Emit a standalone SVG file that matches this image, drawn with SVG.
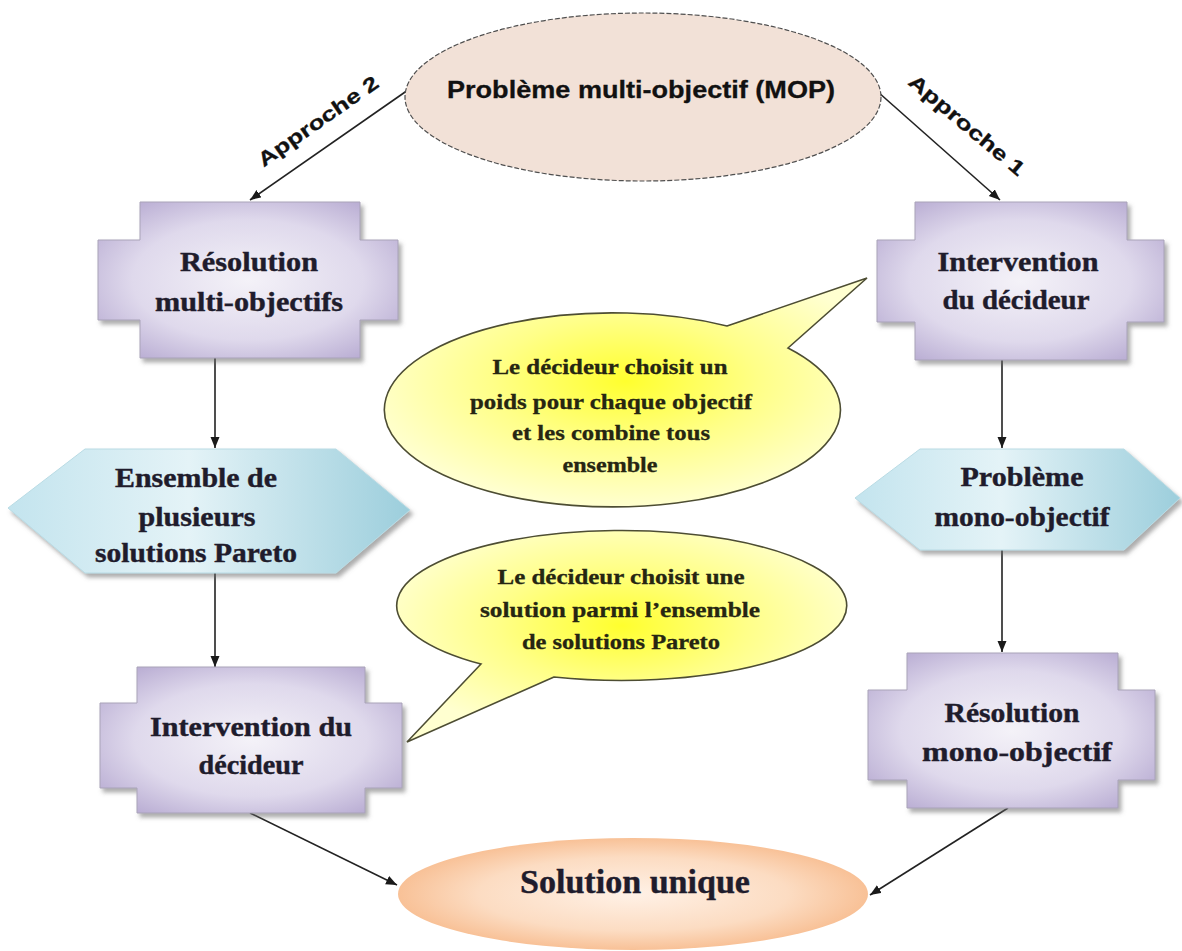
<svg xmlns="http://www.w3.org/2000/svg" width="1182" height="951" viewBox="0 0 1182 951">
  <defs>
    <radialGradient id="gPurple" cx="50%" cy="50%" r="70%">
      <stop offset="0" stop-color="#f4f2f8"/>
      <stop offset="0.55" stop-color="#dfd9ec"/>
      <stop offset="1" stop-color="#ad9fcb"/>
    </radialGradient>
    <linearGradient id="gCyan" x1="0" y1="0" x2="1" y2="0">
      <stop offset="0" stop-color="#c3e4ee"/>
      <stop offset="0.45" stop-color="#e4f3f7"/>
      <stop offset="1" stop-color="#9ccedc"/>
    </linearGradient>
    <radialGradient id="gYellow" cx="50%" cy="45%" r="55%">
      <stop offset="0" stop-color="#ffff2e"/>
      <stop offset="0.5" stop-color="#ffff88"/>
      <stop offset="1" stop-color="#ffffd0"/>
    </radialGradient>
    <radialGradient id="gOrange" cx="50%" cy="50%" r="55%">
      <stop offset="0" stop-color="#fff1e6"/>
      <stop offset="0.6" stop-color="#fcdcc2"/>
      <stop offset="1" stop-color="#f7b98a"/>
    </radialGradient>
    <filter id="shadow" x="-10%" y="-10%" width="125%" height="130%">
      <feDropShadow dx="3" dy="4" stdDeviation="2" flood-color="#6b6b6b" flood-opacity="0.55"/>
    </filter>
    <marker id="arrow" markerUnits="userSpaceOnUse" markerWidth="12" markerHeight="10" refX="11" refY="4.5" orient="auto">
      <path d="M0,0 L11,4.5 L0,9 z" fill="#1a1a1a"/>
    </marker>
    <style>
      .box { fill: url(#gPurple); stroke: #a9a3b8; stroke-width: 1; filter: url(#shadow); }
      .hex { fill: url(#gCyan); stroke: #b9dbe4; stroke-width: 1; filter: url(#shadow); }
      .bubble { fill: url(#gYellow); stroke: #4d4d33; stroke-width: 1.6; }
      .conn { stroke: #222; stroke-width: 1.6; fill: none; marker-end: url(#arrow); }
      .serif { font-family: "Liberation Serif", "Times New Roman", serif; font-weight: bold; fill: #1f1c2c; stroke: #1f1c2c; stroke-width: 0.4; text-anchor: middle; }
      .sans { font-family: "Liberation Sans", Arial, sans-serif; font-weight: bold; fill: #111; stroke: #111; stroke-width: 0.3; text-anchor: middle; }
      .node-text { font-size: 27px; }
      .bubble-text { font-size: 21px; fill: #262612; stroke: #262612; stroke-width: 0.3; }
    </style>
  </defs>

  <rect width="1182" height="951" fill="#ffffff"/>

  <!-- connectors -->
  <g id="connectors">
    <line class="conn" x1="408" y1="90" x2="250" y2="200"/>
    <line class="conn" x1="878" y1="92" x2="1000" y2="200"/>
    <line class="conn" x1="215" y1="358" x2="215" y2="448"/>
    <line class="conn" x1="215" y1="573" x2="215" y2="667"/>
    <line class="conn" x1="1002" y1="360" x2="1002" y2="448"/>
    <line class="conn" x1="1002" y1="550" x2="1002" y2="652"/>
    <line class="conn" x1="250" y1="813" x2="397" y2="885"/>
    <line class="conn" x1="1008" y1="808" x2="870" y2="895"/>
    <text class="sans" font-size="20" transform="translate(318,121) rotate(-35)" y="7" textLength="142" lengthAdjust="spacingAndGlyphs">Approche 2</text>
    <text class="sans" font-size="20" transform="translate(967,125) rotate(40)" y="7" textLength="145" lengthAdjust="spacingAndGlyphs">Approche 1</text>
  </g>

  <!-- top problem -->
  <g id="mop">
    <ellipse cx="643" cy="97" rx="238" ry="84" fill="#f2e1d7" stroke="#4f4f4f" stroke-width="1.2" stroke-dasharray="5 2"/>
    <text class="sans" x="641" y="98" font-size="24" textLength="388" lengthAdjust="spacingAndGlyphs">Problème multi-objectif (MOP)</text>
  </g>

  <!-- approach 2: left column -->
  <g id="resolution-multi">
    <path class="box" d="M140 202 H360 V240 H398 V320 H360 V358 H140 V320 H98 V240 H140 Z"/>
    <text class="serif node-text" x="249" y="271" textLength="138" lengthAdjust="spacingAndGlyphs">Résolution</text>
    <text class="serif node-text" x="249" y="311" textLength="188" lengthAdjust="spacingAndGlyphs">multi-objectifs</text>
  </g>

  <g id="ensemble-pareto">
    <path class="hex" d="M85 449 H336 L410 510 L336 573 H85 L8 508 Z"/>
    <text class="serif node-text" x="196" y="487" textLength="162" lengthAdjust="spacingAndGlyphs">Ensemble de</text>
    <text class="serif node-text" x="197" y="526" textLength="117" lengthAdjust="spacingAndGlyphs">plusieurs</text>
    <text class="serif node-text" x="196" y="562" textLength="202" lengthAdjust="spacingAndGlyphs">solutions Pareto</text>
  </g>

  <g id="intervention-left">
    <path class="box" d="M137 667 H365 V703 H402 V788 H365 V813 H137 V788 H100 V703 H137 Z"/>
    <text class="serif node-text" x="251" y="736" textLength="202" lengthAdjust="spacingAndGlyphs">Intervention du</text>
    <text class="serif node-text" x="251" y="774" textLength="105" lengthAdjust="spacingAndGlyphs">décideur</text>
  </g>

  <!-- approach 1: right column -->
  <g id="intervention-right">
    <path class="box" d="M915 202 H1127 V240 H1164 V322 H1127 V360 H915 V322 H877 V240 H915 Z"/>
    <text class="serif node-text" x="1018" y="271" textLength="161" lengthAdjust="spacingAndGlyphs">Intervention</text>
    <text class="serif node-text" x="1016" y="309" textLength="147" lengthAdjust="spacingAndGlyphs">du décideur</text>
  </g>

  <g id="probleme-mono">
    <path class="hex" d="M920 449 H1124 L1180 498 L1124 550 H920 L855 498 Z"/>
    <text class="serif node-text" x="1022" y="486" textLength="123" lengthAdjust="spacingAndGlyphs">Problème</text>
    <text class="serif node-text" x="1022" y="526" textLength="175" lengthAdjust="spacingAndGlyphs">mono-objectif</text>
  </g>

  <g id="resolution-mono">
    <path class="box" d="M907 653 H1118 V690 H1155 V780 H1118 V808 H907 V780 H868 V690 H907 Z"/>
    <text class="serif node-text" x="1012" y="722" textLength="135" lengthAdjust="spacingAndGlyphs">Résolution</text>
    <text class="serif node-text" x="1017" y="761" textLength="190" lengthAdjust="spacingAndGlyphs">mono-objectif</text>
  </g>

  <!-- callouts -->
  <g id="callout-weights">
    <path class="bubble" d="M727 326 L867 278 L788 348 A228 97 0 1 1 727 326 Z"/>
    <text class="serif bubble-text" x="610" y="374" textLength="235" lengthAdjust="spacingAndGlyphs">Le décideur choisit un</text>
    <text class="serif bubble-text" x="611" y="409" textLength="282" lengthAdjust="spacingAndGlyphs">poids pour chaque objectif</text>
    <text class="serif bubble-text" x="611" y="440" textLength="198" lengthAdjust="spacingAndGlyphs">et les combine tous</text>
    <text class="serif bubble-text" x="610" y="472" textLength="95" lengthAdjust="spacingAndGlyphs">ensemble</text>
  </g>

  <g id="callout-choice">
    <path class="bubble" d="M554 677 L407 742 L481 664 A225 75 0 1 1 554 677 Z"/>
    <text class="serif bubble-text" x="621" y="584" textLength="247" lengthAdjust="spacingAndGlyphs">Le décideur choisit une</text>
    <text class="serif bubble-text" x="620" y="617" textLength="280" lengthAdjust="spacingAndGlyphs">solution parmi l’ensemble</text>
    <text class="serif bubble-text" x="621" y="649" textLength="198" lengthAdjust="spacingAndGlyphs">de solutions Pareto</text>
  </g>

  <!-- final result -->
  <g id="solution-unique">
    <ellipse cx="633" cy="894" rx="235" ry="56" fill="url(#gOrange)"/>
    <text class="serif" x="635" y="893" font-size="33" textLength="230" lengthAdjust="spacingAndGlyphs">Solution unique</text>
  </g>
</svg>
